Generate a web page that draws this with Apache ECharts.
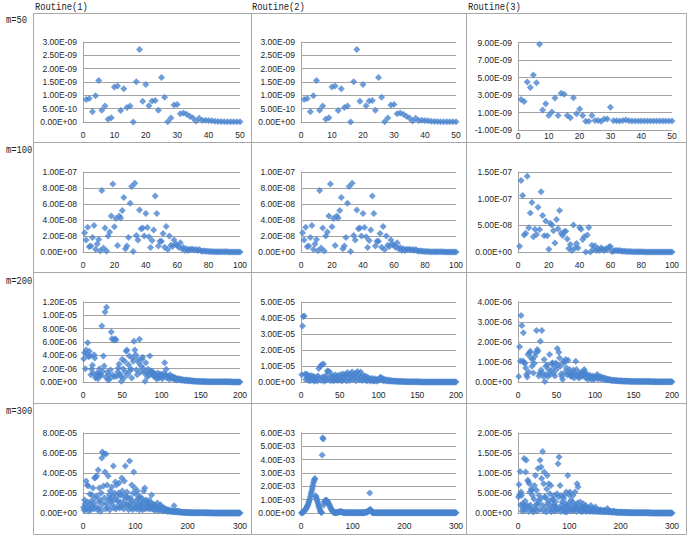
<!DOCTYPE html>
<html><head><meta charset="utf-8">
<script src="https://cdn.jsdelivr.net/npm/echarts@6/dist/echarts.min.js"></script>
<style>html,body{margin:0;padding:0;background:#fff}#c{width:691px;height:548px}</style>
</head><body><div id="c"></div>
<script>
// ---- titles ----
const colTitles = ['Routine(1)', 'Routine(2)', 'Routine(3)'];
const rowTitles = ['m=50', 'm=100', 'm=200', 'm=300'];
// ---- x axis ticks per row ----
const xMaxByRow = [50, 100, 200, 300];
const xStepByRow = [10, 20, 50, 100];
// ---- y axis ticks per panel: [min, max, step] in units of yUnit ----
const yTicks = [
  [0, 30, 5], [0, 30, 5], [-1, 9, 2],
  [0, 10, 2], [0, 10, 2], [0, 15, 5],
  [0, 12, 2], [0, 50, 10], [0, 4, 1],
  [0, 8, 2], [0, 6, 1], [0, 20, 5]
];
const yUnit = [1e-10, 1e-10, 1e-9, 1e-8, 1e-8, 1e-8, 1e-6, 1e-6, 1e-6, 1e-5, 1e-3, 1e-6];

// ---- series values (x = 1..m), in units of yUnit ----
const r1c1 = [8.4,8.8,3.8,9.8,15.6,4.4,6.0,1.0,1.6,13.1,
13.5,4.3,12.5,5.4,6.0,0.0,15.1,27.2,7.8,14.1,
6.1,7.9,8.1,4.4,16.7,9.3,0.1,1.5,6.4,6.6,
3.1,3.4,2.9,2.2,1.5,0.4,1.4,0.6,0.7,0.6,
0.5,0.3,0.2,0.2,0.1,0.1,0.1,0.1,0.1,0.1];
const r1c2 = [8.4,8.8,3.8,9.8,15.6,4.4,6.0,1.0,1.6,13.1,
13.5,4.3,12.5,5.4,6.0,0.0,15.1,27.2,7.8,14.1,
6.1,7.9,8.1,4.4,16.7,9.3,0.1,1.5,6.4,6.6,
3.1,3.4,2.9,2.2,1.5,0.4,1.4,0.6,0.7,0.6,
0.5,0.3,0.2,0.2,0.1,0.1,0.1,0.1,0.1,0.1];
const r1c3 = [2.5,2.25,4.5,3.85,5.3,4.4,8.8,1.3,2.0,0.65,
1.05,2.65,0.65,3.2,3.1,0.65,0.4,2.7,0.85,1.4,
0.65,0.0,0.0,0.65,0.1,0.1,0.0,0.25,0.25,1.6,
0.05,0.05,0.03,0.08,0.15,0.05,0.04,0.03,0.03,0.03,
0.02,0.02,0.02,0.02,0.02,0.02,0.02,0.02,0.02,0.02];
const r2c1 = [2.4,1.5,3.1,0.65,0.75,1.8,3.3,0.35,1.0,1.55,
0.15,7.7,0.5,3.0,0.12,2.0,2.5,4.5,8.5,3.15,
4.2,0.8,4.5,4.25,5.2,6.8,0.4,0.75,1.8,6.1,
8.2,0.05,8.6,2.05,1.5,5.25,2.9,3.0,2.0,4.8,
3.05,1.9,0.55,1.45,2.75,7.0,4.8,0.75,1.35,1.35,
2.3,0.6,3.2,0.3,2.0,0.85,0.7,1.5,1.0,0.85,
0.6,1.15,0.4,0.55,0.2,0.4,0.2,0.35,0.3,0.35,
0.25,0.3,0.2,0.3,0.15,0.1,0.15,0.08,0.1,0.05,
0.06,0.05,0.04,0.04,0.03,0.03,0.03,0.02,0.02,0.02,
0.02,0.02,0.01,0.01,0.01,0.01,0.01,0.01,0.01,0.01];
const r2c2 = [2.4,1.5,3.1,0.65,0.75,1.8,3.3,0.35,1.0,1.55,
0.15,7.7,0.5,3.0,0.12,2.0,2.5,4.5,8.5,3.15,
4.2,0.8,4.5,4.25,5.2,6.8,0.4,0.75,1.8,6.1,
8.2,0.05,8.6,2.05,1.5,5.25,2.9,3.0,2.0,4.8,
3.05,1.9,0.55,1.45,2.75,7.0,4.8,0.75,1.35,1.35,
2.3,0.6,3.2,0.3,2.0,0.85,0.7,1.5,1.0,0.85,
0.6,1.15,0.4,0.55,0.2,0.4,0.2,0.35,0.3,0.35,
0.25,0.3,0.2,0.3,0.15,0.1,0.15,0.08,0.1,0.05,
0.06,0.05,0.04,0.04,0.03,0.03,0.03,0.02,0.02,0.02,
0.02,0.02,0.01,0.01,0.01,0.01,0.01,0.01,0.01,0.01];
const r2c3 = [1.1,13.4,10.6,3.2,3.5,14.2,4.55,7.3,9.3,2.85,
4.25,3.3,8.4,4.2,11.3,6.85,3.05,5.8,3.05,0.5,
5.4,5.05,4.0,1.7,6.1,4.35,7.8,3.5,3.1,3.8,
3.9,2.45,0.65,1.4,0.3,5.05,0.75,1.6,0.75,4.6,
4.25,2.35,2.85,0.0,3.2,4.6,0.0,1.25,0.45,1.15,
0.3,0.6,0.3,0.8,0.5,0.3,0.6,0.5,0.95,1.05,
0.1,0.2,0.3,0.3,0.25,0.3,0.2,0.15,0.2,0.1,
0.1,0.08,0.1,0.06,0.05,0.05,0.04,0.04,0.03,0.03,
0.03,0.02,0.02,0.02,0.02,0.02,0.02,0.01,0.01,0.01,
0.01,0.01,0.01,0.01,0.01,0.01,0.01,0.01,0.01,0.01];
const r3c1 = [3.5,4.4,2.0,4.8,4.2,5.9,3.8,4.6,3.9,1.1,
1.9,2.5,1.3,4.1,3.6,0.6,0.85,1.35,0.5,1.2,
2.0,0.9,1.1,8.4,1.6,3.9,2.4,10.5,0.7,11.2,
1.45,0.3,1.1,0.45,1.8,7.5,6.5,1.0,6.3,0.8,
6.5,6.3,0.85,1.5,2.1,2.7,1.2,0.85,0.1,3.4,
2.0,0.6,3.1,1.5,4.6,4.8,1.1,2.6,3.9,1.7,
2.0,0.6,3.6,3.1,6.1,4.8,4.1,1.8,1.1,3.4,
2.9,6.4,1.5,2.4,3.4,3.7,2.0,1.35,0.1,2.9,
1.45,0.8,1.9,1.0,3.9,1.7,1.35,1.6,1.1,0.85,
1.3,0.95,0.7,0.45,1.35,0.9,0.6,1.2,0.85,1.1,
0.5,0.85,1.3,2.9,1.1,1.9,0.6,0.9,0.85,0.4,
1.1,0.7,0.6,0.8,0.5,0.7,0.4,0.6,0.3,0.5,
0.45,0.35,0.5,0.3,0.4,0.25,0.35,0.3,0.2,0.3,
0.25,0.2,0.3,0.2,0.15,0.25,0.2,0.15,0.2,0.12,
0.15,0.12,0.1,0.12,0.1,0.08,0.1,0.08,0.07,0.08,
0.07,0.06,0.07,0.06,0.06,0.05,0.06,0.05,0.05,0.05,
0.04,0.05,0.04,0.04,0.04,0.04,0.03,0.04,0.03,0.03,
0.03,0.03,0.03,0.03,0.02,0.03,0.02,0.02,0.02,0.02,
0.02,0.02,0.02,0.02,0.02,0.02,0.02,0.01,0.02,0.01,
0.01,0.01,0.01,0.01,0.01,0.01,0.01,0.01,0.01,0.01];
const r3c2 = [4.5,35,41,41.3,4.8,1.5,5.0,2.5,4.2,1.0,
3.5,0.8,4.0,2.2,1.5,3.6,0.5,2.8,1.2,3.0,
0.6,3.8,8.4,2.5,9.8,1.0,10.9,3.2,11.3,0.5,
2.6,4.0,1.2,6.8,6.7,2.0,6.3,0.8,3.4,1.5,
3.9,0.6,2.4,4.5,1.3,3.0,0.9,4.2,2.0,1.1,
3.5,4.8,0.7,2.5,5.0,1.6,3.8,4.5,0.6,6.0,
2.2,4.4,1.0,5.2,3.0,6.3,1.5,4.0,2.6,5.5,
0.8,3.6,6.5,2.0,4.8,1.2,6.2,3.3,0.9,4.2,
2.5,1.3,3.8,2.0,0.7,3.0,1.5,2.4,0.6,1.8,
1.2,2.3,0.5,1.6,1.0,2.0,0.4,1.4,0.9,1.7,
1.1,2.6,3.0,1.5,2.2,0.8,1.9,1.2,0.6,1.4,
1.0,0.7,1.2,0.5,0.9,0.6,0.8,0.4,0.7,0.5,
0.6,0.4,0.5,0.35,0.45,0.3,0.4,0.3,0.35,0.25,
0.3,0.25,0.3,0.2,0.25,0.2,0.2,0.15,0.2,0.15,
0.15,0.12,0.15,0.1,0.12,0.1,0.1,0.08,0.1,0.08,
0.08,0.07,0.08,0.06,0.07,0.06,0.06,0.05,0.06,0.05,
0.05,0.05,0.04,0.05,0.04,0.04,0.04,0.04,0.03,0.04,
0.03,0.03,0.03,0.03,0.03,0.03,0.02,0.03,0.02,0.02,
0.02,0.02,0.02,0.02,0.02,0.02,0.02,0.02,0.02,0.02,
0.01,0.02,0.01,0.01,0.01,0.01,0.01,0.01,0.01,0.01];
const r3c3 = [0.28,1.76,1.05,3.33,2.83,1.05,2.46,0.99,0.92,0.7,
0.37,0.25,1.37,0.5,1.46,1.54,1.2,0.79,1.12,0.45,
0.92,1.29,1.46,2.58,1.62,1.54,0.3,0.45,2.04,0.6,
2.58,0.45,0.28,1.12,0.03,0.79,0.37,0.85,0.28,0.62,
1.37,0.37,0.55,0.92,0.95,0.45,0.75,0.3,0.95,0.62,
1.67,0.85,1.49,1.2,0.79,0.4,0.28,0.12,1.04,0.95,
0.5,1.12,0.7,0.35,1.09,0.45,0.62,0.3,0.37,0.28,
0.45,0.6,0.2,0.37,1.04,0.62,0.3,0.37,0.2,0.45,
0.25,0.32,0.5,0.45,0.3,0.62,0.5,0.2,0.37,0.3,
0.12,0.28,0.35,0.2,0.25,0.12,0.3,0.2,0.15,0.28,
0.2,0.3,0.37,0.15,0.25,0.2,0.28,0.15,0.2,0.22,
0.15,0.2,0.12,0.18,0.1,0.15,0.12,0.1,0.12,0.1,
0.08,0.1,0.08,0.09,0.07,0.08,0.06,0.07,0.06,0.06,
0.05,0.06,0.05,0.05,0.06,0.05,0.04,0.05,0.04,0.04,
0.04,0.04,0.05,0.04,0.03,0.04,0.03,0.03,0.03,0.04,
0.03,0.03,0.03,0.03,0.02,0.03,0.02,0.02,0.03,0.02,
0.02,0.02,0.02,0.02,0.02,0.02,0.02,0.02,0.02,0.02,
0.02,0.01,0.02,0.01,0.01,0.01,0.02,0.01,0.01,0.01,
0.01,0.01,0.01,0.01,0.01,0.01,0.01,0.01,0.01,0.01,
0.01,0.01,0.01,0.01,0.01,0.01,0.01,0.01,0.01,0.01];
const r4c1 = [0.57,0.3,1.3,0.9,0.33,3.2,0.6,2.8,1.1,2.7,
0.2,0.8,1.9,0.5,0.33,1.2,1.8,0.7,2.5,1.0,
0.4,3.5,1.5,3.55,0.6,3.7,1.7,0.3,4.3,1.1,
2.5,0.5,1.3,0.17,2.0,5.5,6.1,0.9,2.7,5.9,
1.5,4.1,0.4,5.9,1.0,2.8,0.6,3.7,1.4,1.8,
0.3,2.2,1.1,1.4,2.6,0.83,1.7,4.7,0.5,2.0,
1.3,3.1,0.4,2.8,1.6,1.2,0.7,2.0,3.0,0.5,
1.1,1.8,0.6,3.5,2.2,0.9,1.7,0.4,3.2,1.3,
4.7,0.8,1.7,2.1,0.83,1.5,0.33,0.7,5.2,1.0,
1.5,0.5,2.8,1.2,0.33,2.0,4.1,0.8,2.5,0.6,
1.2,0.4,1.8,2.2,0.67,1.4,1.0,0.3,1.6,0.83,
0.5,1.5,0.9,0.33,1.1,2.2,0.6,2.5,0.4,1.3,
1.2,0.7,0.5,1.0,0.83,0.4,1.3,0.6,0.5,1.0,
1.8,0.4,0.67,0.9,0.5,0.3,0.8,0.45,0.33,0.6,
0.4,1.0,0.3,0.55,0.5,0.25,0.7,0.83,0.35,0.4,
0.3,0.33,0.5,0.2,0.5,0.35,0.25,0.4,0.2,0.3,
0.33,0.15,0.25,0.3,0.2,0.15,0.25,0.17,0.2,0.15,
0.12,0.2,0.15,0.73,0.15,0.1,0.2,0.12,0.1,0.15,
0.23,0.1,0.12,0.08,0.1,0.12,0.1,0.08,0.07,0.08,
0.06,0.07,0.05,0.07,0.05,0.06,0.05,0.04,0.05,0.04,
0.04,0.03,0.04,0.03,0.03,0.04,0.03,0.03,0.03,0.03,
0.03,0.03,0.02,0.03,0.03,0.02,0.02,0.03,0.02,0.02,
0.02,0.02,0.02,0.02,0.02,0.02,0.02,0.02,0.02,0.02,
0.02,0.02,0.02,0.02,0.02,0.01,0.02,0.02,0.01,0.02,
0.01,0.02,0.01,0.01,0.02,0.01,0.01,0.01,0.01,0.01,
0.01,0.01,0.01,0.01,0.01,0.01,0.01,0.01,0.01,0.01,
0.01,0.01,0.01,0.01,0.01,0.01,0.01,0.01,0.01,0.01,
0.01,0.01,0.01,0.01,0.01,0.01,0.01,0.01,0.01,0.01,
0.01,0.01,0.01,0.01,0.01,0.01,0.01,0.01,0.01,0.01,
0.01,0.01,0.01,0.01,0.01,0.01,0.01,0.01,0.01,0.01];
const r4c2 = [0.0,0.02,0.04,0.07,0.1,0.14,0.19,0.24,0.29,0.35,
0.42,0.5,0.58,0.68,0.8,0.9,1.05,1.22,1.4,1.55,
1.7,1.88,2.07,2.25,2.4,2.52,2.58,1.3,1.22,1.1,
0.98,0.85,0.72,0.58,0.45,0.33,0.2,0.1,0.05,0.03,
4.35,5.65,5.55,0.6,0.8,0.88,0.93,0.96,0.95,0.92,
0.87,0.81,0.74,0.66,0.58,0.5,0.42,0.34,0.27,0.2,
0.14,0.1,0.06,0.04,0.03,0.02,0.02,0.02,0.03,0.04,
0.05,0.06,0.07,0.08,0.09,0.1,0.1,0.09,0.08,0.07,
0.05,0.04,0.03,0.03,0.02,0.02,0.02,0.02,0.02,0.02,
0.02,0.03,0.02,0.03,0.02,0.02,0.03,0.02,0.02,0.02,
0.02,0.02,0.03,0.02,0.02,0.02,0.02,0.03,0.02,0.02,
0.02,0.02,0.02,0.02,0.03,0.02,0.02,0.02,0.02,0.02,
0.02,0.03,0.03,0.04,0.05,0.06,0.07,0.08,0.1,0.12,
0.15,0.2,1.5,0.28,0.22,0.15,0.08,0.04,0.02,0.02,
0.02,0.02,0.02,0.02,0.02,0.02,0.02,0.02,0.02,0.02,
0.02,0.02,0.02,0.02,0.02,0.02,0.02,0.02,0.02,0.02,
0.02,0.02,0.02,0.02,0.02,0.01,0.02,0.02,0.01,0.02,
0.01,0.02,0.01,0.02,0.01,0.01,0.02,0.01,0.01,0.01,
0.01,0.01,0.01,0.01,0.01,0.01,0.01,0.01,0.01,0.01,
0.01,0.01,0.01,0.01,0.01,0.01,0.01,0.01,0.01,0.01,
0.01,0.01,0.01,0.01,0.01,0.01,0.01,0.01,0.01,0.01,
0.01,0.01,0.01,0.01,0.01,0.01,0.01,0.01,0.01,0.01,
0.01,0.01,0.01,0.01,0.01,0.01,0.01,0.01,0.01,0.01,
0.01,0.01,0.01,0.01,0.01,0.01,0.01,0.01,0.01,0.01,
0.01,0.01,0.01,0.01,0.01,0.01,0.01,0.01,0.01,0.01,
0.01,0.01,0.01,0.01,0.01,0.01,0.01,0.01,0.01,0.01,
0.01,0.01,0.01,0.01,0.01,0.01,0.01,0.01,0.01,0.01,
0.01,0.01,0.01,0.01,0.01,0.01,0.01,0.01,0.01,0.01,
0.01,0.01,0.01,0.01,0.01,0.01,0.01,0.01,0.01,0.01,
0.01,0.01,0.01,0.01,0.01,0.01,0.01,0.01,0.01,0.01];
const r4c3 = [4.0,7.1,4.6,10.4,2.0,5.25,4.4,0.5,2.3,1.1,
1.8,13.6,0.67,3.0,10.25,13.2,1.5,1.9,8.2,7.9,
0.4,7.3,5.25,2.0,1.1,6.0,5.7,4.4,0.8,0.25,
3.5,6.9,1.2,9.4,2.0,5.7,0.5,2.3,11.1,3.0,
4.4,0.9,13.2,3.5,11.5,8.6,2.0,15.4,0.6,7.3,
10.25,4.0,4.0,1.5,0.25,6.0,9.4,2.5,3.2,7.3,
0.8,4.8,2.0,6.9,0.3,1.1,3.5,3.2,1.8,4.4,
0.5,1.9,2.8,0.67,1.5,4.8,0.9,12.3,4.0,14.0,
1.2,6.9,0.4,4.4,2.0,2.75,0.8,1.1,3.6,4.4,
0.3,1.5,2.4,5.25,0.25,1.9,9.4,0.7,2.3,4.5,
5.25,1.0,3.2,0.5,1.5,2.8,4.4,0.9,0.67,2.0,
5.25,1.2,1.9,0.4,7.3,2.5,6.5,1.0,1.1,0.6,
2.75,1.4,0.67,0.3,1.5,0.8,2.3,0.5,1.1,1.6,
0.7,1.9,0.4,1.2,1.1,0.5,0.9,0.67,1.3,0.4,
0.8,1.9,0.5,0.7,1.1,0.6,0.3,0.67,0.9,0.5,
1.5,0.4,0.6,0.8,0.67,0.3,0.5,0.7,0.4,0.6,
0.83,0.3,0.5,0.4,0.6,0.3,0.5,0.67,0.3,0.4,
0.3,0.5,0.4,1.1,0.3,0.4,0.25,0.5,0.3,0.35,
0.4,0.25,0.3,0.2,0.35,0.25,0.5,0.2,0.25,0.2,
0.2,0.25,0.15,0.25,0.2,0.15,0.2,0.15,0.12,0.25,
0.15,0.2,0.12,0.18,0.15,0.1,0.15,0.12,0.1,0.14,
0.12,0.1,0.12,0.09,0.1,0.11,0.09,0.1,0.08,0.09,
0.08,0.09,0.08,0.07,0.08,0.07,0.08,0.07,0.06,0.07,
0.06,0.07,0.06,0.06,0.05,0.06,0.05,0.06,0.05,0.05,
0.05,0.05,0.05,0.04,0.05,0.04,0.04,0.05,0.04,0.04,
0.04,0.04,0.04,0.04,0.03,0.04,0.03,0.04,0.03,0.03,
0.03,0.03,0.03,0.03,0.03,0.03,0.03,0.03,0.03,0.03,
0.03,0.02,0.03,0.02,0.03,0.02,0.02,0.03,0.02,0.02,
0.02,0.02,0.02,0.02,0.02,0.02,0.02,0.02,0.02,0.02,
0.02,0.02,0.02,0.02,0.02,0.02,0.02,0.02,0.02,0.02];

const panels = [r1c1, r1c2, r1c3, r2c1, r2c2, r2c3, r3c1, r3c2, r3c3, r4c1, r4c2, r4c3];

// ---- layout ----
const colLeft = [83, 301, 518];
const colWidth = [157, 155, 154];
const rowTop = [42, 172, 302, 433];
const rowHeight = 80;
const BLUE = '#4a84cf';
const GRIDC = '#a3a3a3';
const LABELC = '#262626';
const FONT = 'Liberation Sans';

function fmtE(real) {
  if (Math.abs(real) < 1e-30) return '0.00E+00';
  const s = real.toExponential(2);
  const parts = s.split('e');
  const sign = parts[1].charAt(0) === '-' ? '-' : '+';
  let d = parts[1].replace(/[+-]/, '');
  if (d.length < 2) d = '0' + d;
  return parts[0] + 'E' + sign + d;
}

const grids = [], xAxes = [], yAxes = [], series = [];
for (let p = 0; p < 12; p++) {
  const r = Math.floor(p / 3), c = p % 3;
  let top = rowTop[r], height = rowHeight, xMargin = 8;
  if (p === 2) { top = 42.5; height = 87.5; xMargin = 1; }
  grids.push({ left: colLeft[c], top: top, width: colWidth[c], height: height, containLabel: false });
  xAxes.push({
    type: 'value', gridIndex: p, min: 0, max: xMaxByRow[r], interval: xStepByRow[r],
    axisLine: { show: true, onZero: false, lineStyle: { color: GRIDC, width: 1 } },
    axisTick: { show: false }, splitLine: { show: false },
    axisLabel: { color: LABELC, fontFamily: FONT, fontSize: 8.5, margin: xMargin }
  });
  const unit = yUnit[p];
  yAxes.push({
    type: 'value', gridIndex: p, min: yTicks[p][0], max: yTicks[p][1], interval: yTicks[p][2],
    axisLine: { show: true, lineStyle: { color: GRIDC, width: 1 } },
    axisTick: { show: false },
    splitLine: { show: true, lineStyle: { color: GRIDC, width: 1 } },
    axisLabel: { color: LABELC, fontFamily: FONT, fontSize: 8.5, margin: 6,
      formatter: function (v) { return fmtE(v * unit); } }
  });
  series.push({
    type: 'scatter', xAxisIndex: p, yAxisIndex: p, symbol: 'diamond', symbolSize: 7,
    clip: false, silent: true,
    itemStyle: { color: BLUE },
    data: panels[p].map(function (v, i) { return [i + 1, v]; })
  });
}

// ---- table lines & texts ----
const graphic = [];
const hLines = [13.5, 142.5, 272.5, 403.5, 534.5];
const vLines = [33.5, 251.5, 466.5, 686.5];
hLines.forEach(function (y) {
  graphic.push({ type: 'line', shape: { x1: 33.5, y1: y, x2: 686.5, y2: y }, style: { stroke: '#a8a8a8', lineWidth: 1 }, silent: true });
});
vLines.forEach(function (x) {
  graphic.push({ type: 'line', shape: { x1: x, y1: 13.5, x2: x, y2: 534.5 }, style: { stroke: '#a8a8a8', lineWidth: 1 }, silent: true });
});
const colTitleX = [35, 252, 468];
colTitles.forEach(function (t, i) {
  graphic.push({ type: 'text', x: colTitleX[i], y: 7.5, scaleX: 0.8, silent: true,
    style: { text: t, font: '11px "Liberation Mono", monospace', fill: '#222',
      align: 'left', textAlign: 'left', verticalAlign: 'middle', textVerticalAlign: 'middle' } });
});
const rowTitleY = [20, 150, 281, 411];
rowTitles.forEach(function (t, i) {
  graphic.push({ type: 'text', x: 6, y: rowTitleY[i], scaleX: 0.8, silent: true,
    style: { text: t, font: '11px "Liberation Mono", monospace', fill: '#222',
      align: 'left', textAlign: 'left', verticalAlign: 'middle', textVerticalAlign: 'middle' } });
});

const chart = echarts.init(document.getElementById('c'), null, { renderer: 'svg' });
chart.setOption({
  animation: false,
  backgroundColor: '#fff',
  grid: grids, xAxis: xAxes, yAxis: yAxes, series: series,
  graphic: graphic
});
</script>
</body></html>
